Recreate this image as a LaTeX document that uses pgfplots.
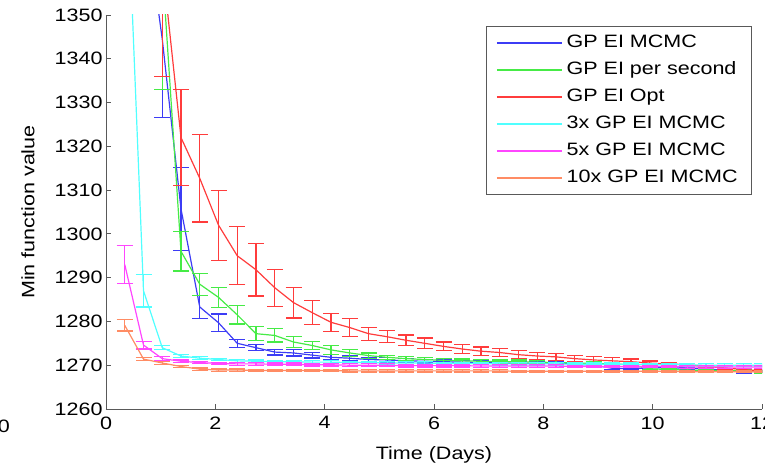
\documentclass[border=0pt]{standalone}
\usepackage{fontspec}
\setmainfont{Liberation Sans}[FakeStretch=1.2]
\usepackage{pgfplots}
\pgfplotsset{compat=1.18}
\usepackage{pgfplotstable}
\usetikzlibrary{calc}
\definecolor{cblue}{RGB}{60,60,245}
\definecolor{cgreen}{RGB}{70,235,70}
\definecolor{cred}{RGB}{255,60,60}
\definecolor{ccyan}{RGB}{80,255,255}
\definecolor{cmag}{RGB}{255,70,255}
\definecolor{corange}{RGB}{255,140,100}

\pgfplotstableread{
x y e
0.686 1376 22
1.029 1344.5 18
1.372 1305.7 9.5
1.715 1283.3 2.6
2.058 1279.7 2.0
2.401 1275.0 0.95
2.744 1274.0 0.7
3.087 1273.0 0.65
3.430 1272.8 0.7
3.773 1272.3 0.65
4.116 1271.8 0.6
4.459 1271.6 0.55
4.802 1271.3 0.5
5.145 1271.2 0.5
5.488 1271.0 0.45
5.831 1270.9 0.4
6.174 1270.8 0.4
6.517 1270.7 0.4
6.860 1270.6 0.4
7.203 1270.5 0.4
7.546 1270.4 0.4
7.889 1270.4 0.4
8.232 1270.6 0.35
8.575 1270.2 0.35
8.918 1270.0 0.35
9.261 1269.3 0.3
9.604 1269.2 0.3
9.947 1269.4 0.3
10.290 1269.4 0.3
10.633 1269.3 0.3
10.976 1269.2 0.3
11.319 1268.8 0.3
11.662 1268.5 0.3
12.005 1268.6 0.3
}\tblue

\pgfplotstableread{
x y e
1.029 1361 28
1.372 1296 4.5
1.715 1288.5 2.5
2.058 1285.5 2.3
2.401 1281.5 2.1
2.744 1277.2 1.6
3.087 1276.8 1.5
3.430 1275.3 1.2
3.773 1274.5 1.0
4.116 1273.5 1.0
4.459 1272.8 0.8
4.802 1272.2 0.6
5.145 1271.8 0.5
5.488 1271.5 0.5
5.831 1271.3 0.45
6.174 1271.1 0.45
6.517 1271.0 0.4
6.860 1270.9 0.4
7.203 1270.8 0.4
7.546 1270.8 0.4
7.889 1270.7 0.4
8.232 1270.6 0.4
8.575 1270.5 0.35
8.918 1270.4 0.35
9.261 1270.3 0.3
9.604 1270.1 0.3
9.947 1269.2 0.3
10.290 1269.0 0.3
10.633 1268.9 0.3
10.976 1268.8 0.3
11.319 1268.8 0.3
11.662 1268.8 0.3
12.005 1268.5 0.3
}\tgreen

\pgfplotstableread{
x y e
1.029 1362 26
1.372 1322 11
1.715 1312.7 10
2.058 1302 8
2.401 1295 6.6
2.744 1291.8 6
3.087 1287.7 4.2
3.430 1284.3 3.5
3.773 1282.0 2.7
4.116 1279.8 2.1
4.459 1278.6 2.0
4.802 1277.2 1.5
5.145 1276.5 1.4
5.488 1275.7 1.2
5.831 1275.0 1.2
6.174 1274.3 1.0
6.517 1273.7 1.0
6.860 1273.2 0.95
7.203 1272.9 0.9
7.546 1272.4 0.9
7.889 1272.1 0.85
8.232 1271.9 0.85
8.575 1271.5 0.75
8.918 1271.2 0.8
9.261 1271.0 0.7
9.604 1270.8 0.6
9.947 1270.5 0.45
10.290 1270.3 0.4
10.633 1270.1 0.35
10.976 1269.7 0.3
11.319 1269.4 0.3
11.662 1269.0 0.3
12.005 1268.7 0.3
}\tred

\pgfplotstableread{
x y e
0.343 1394 20
0.686 1287 3.7
1.029 1274.0 0.5
1.372 1272.1 0.35
1.715 1271.6 0.3
2.058 1271.3 0.3
2.401 1271.0 0.3
2.744 1270.9 0.3
3.087 1270.8 0.3
3.430 1270.8 0.3
3.773 1270.7 0.3
4.116 1270.7 0.3
4.459 1270.6 0.3
4.802 1270.6 0.3
5.145 1270.5 0.3
5.488 1270.5 0.3
5.831 1270.5 0.3
6.174 1270.4 0.3
6.517 1270.4 0.3
6.860 1270.4 0.3
7.203 1270.3 0.3
7.546 1270.3 0.3
7.889 1270.3 0.3
8.232 1270.3 0.3
8.575 1270.2 0.3
8.918 1270.2 0.3
9.261 1270.2 0.3
9.604 1270.2 0.3
9.947 1270.1 0.3
10.290 1270.1 0.3
10.633 1270.1 0.3
10.976 1270.0 0.3
11.319 1270.0 0.3
11.662 1270.0 0.3
12.005 1270.0 0.3
}\tcyan

\pgfplotstableread{
x y e
0.343 1293 4.3
0.686 1274.6 0.9
1.029 1271.5 0.4
1.372 1270.9 0.3
1.715 1270.6 0.3
2.058 1270.4 0.3
2.401 1270.3 0.3
2.744 1270.3 0.3
3.087 1270.2 0.3
3.430 1270.2 0.3
3.773 1270.1 0.3
4.116 1270.1 0.3
4.459 1270.0 0.3
4.802 1270.0 0.3
5.145 1270.0 0.3
5.488 1269.9 0.3
5.831 1269.9 0.3
6.174 1269.9 0.3
6.517 1269.9 0.3
6.860 1269.8 0.3
7.203 1269.8 0.3
7.546 1269.8 0.3
7.889 1269.8 0.3
8.232 1269.8 0.3
8.575 1269.7 0.3
8.918 1269.7 0.3
9.261 1269.7 0.3
9.604 1269.7 0.3
9.947 1269.7 0.3
10.290 1269.7 0.3
10.633 1269.6 0.3
10.976 1269.6 0.3
11.319 1269.6 0.3
11.662 1269.6 0.3
12.005 1269.6 0.3
}\tmag

\pgfplotstableread{
x y e
0.343 1279.1 1.3
0.686 1271.4 0.3
1.029 1270.5 0.3
1.372 1269.7 0.3
1.715 1269.1 0.25
2.058 1268.9 0.25
2.401 1268.9 0.25
2.744 1268.8 0.25
3.087 1268.8 0.25
3.430 1268.8 0.25
3.773 1268.8 0.25
4.116 1268.8 0.25
4.459 1268.7 0.25
4.802 1268.7 0.25
5.145 1268.7 0.25
5.488 1268.7 0.25
5.831 1268.7 0.25
6.174 1268.7 0.25
6.517 1268.7 0.25
6.860 1268.7 0.25
7.203 1268.7 0.25
7.546 1268.6 0.25
7.889 1268.6 0.25
8.232 1268.6 0.25
8.575 1268.6 0.25
8.918 1268.6 0.25
9.261 1268.6 0.25
9.604 1268.6 0.25
9.947 1268.6 0.25
10.290 1268.6 0.25
10.633 1268.5 0.25
10.976 1268.5 0.25
11.319 1268.5 0.25
11.662 1268.5 0.25
12.005 1268.5 0.25
}\torange

\pgfplotsset{
  mybars/.style={error bars/.cd, y dir=both, y explicit,
    error bar style={line width=1.2bp, draw=#1, color=#1, line cap=butt},
    error mark options={rotate=90, mark size=8bp, line width=1.2bp, draw=#1, color=#1}},
}

\begin{document}
\begin{tikzpicture}
\begin{axis}[
  scale only axis, width=656bp, height=394bp,
  xmin=0, xmax=12, ymin=1260, ymax=1350,
  xtick={0,2,...,12}, ytick={1260,1270,...,1350},
  axis x line*=bottom, axis y line*=left,
  tick align=inside, major tick length=5bp,
  axis line style={black!65, line width=0.8bp},
  tick style={black!65, line width=0.8bp},
  ticklabel style={font=\fontsize{18}{20}\selectfont},
  xticklabel style={yshift=-4bp},
  /pgf/number format/assume math mode=true,
  /pgf/number format/1000 sep={},
  xlabel={Time (Days)}, ylabel={Min function value},
  label style={font=\fontsize{18}{20}\selectfont},
  xlabel style={at={(rel axis cs:0.5,0)}, anchor=center, yshift=-46bp},
  ylabel style={at={(rel axis cs:0,0.5)}, anchor=center, yshift=78bp},
  legend style={at={(rel axis cs:1,1)}, anchor=north east, xshift=-10bp, yshift=-11bp,
    draw=black!65, line width=0.8bp, font=\fontsize{18}{20}\selectfont,
    inner xsep=10bp, inner ysep=3bp, row sep=0pt,
    nodes={inner xsep=4bp, inner ysep=5bp, text height=13bp, text depth=4bp}},
  legend cell align=left,
  legend image code/.code={\draw[#1, mark=none, line width=1.5bp] (0bp,0bp) -- (65bp,0bp);},
  every axis plot/.append style={line width=1.2bp, mark=none},
]
\coordinate (sw) at (rel axis cs:0,0);
\coordinate (ne) at (rel axis cs:1,1);
\addplot[cblue, mybars=cblue] table[x=x, y=y, y error=e] {\tblue};
\addlegendentry{GP EI MCMC}
\addplot[cgreen, mybars=cgreen] table[x=x, y=y, y error=e] {\tgreen};
\addlegendentry{GP EI per second}
\addplot[cred, mybars=cred] table[x=x, y=y, y error=e] {\tred};
\addlegendentry{GP EI Opt}
\addplot[ccyan, mybars=ccyan] table[x=x, y=y, y error=e] {\tcyan};
\addlegendentry{3x GP EI MCMC}
\addplot[cmag, mybars=cmag] table[x=x, y=y, y error=e] {\tmag};
\addlegendentry{5x GP EI MCMC}
\addplot[corange, mybars=corange] table[x=x, y=y, y error=e] {\torange};
\addlegendentry{10x GP EI MCMC}
\end{axis}
\node[anchor=north east, inner sep=0pt, font=\fontsize{18}{20}\selectfont] at ($(sw)+(-96bp,-11bp)$) {0};
\pgfresetboundingbox
\path ($(sw)+(-106bp,-59bp)$) rectangle ($(ne)+(3bp,15bp)$);
\end{tikzpicture}
\end{document}
